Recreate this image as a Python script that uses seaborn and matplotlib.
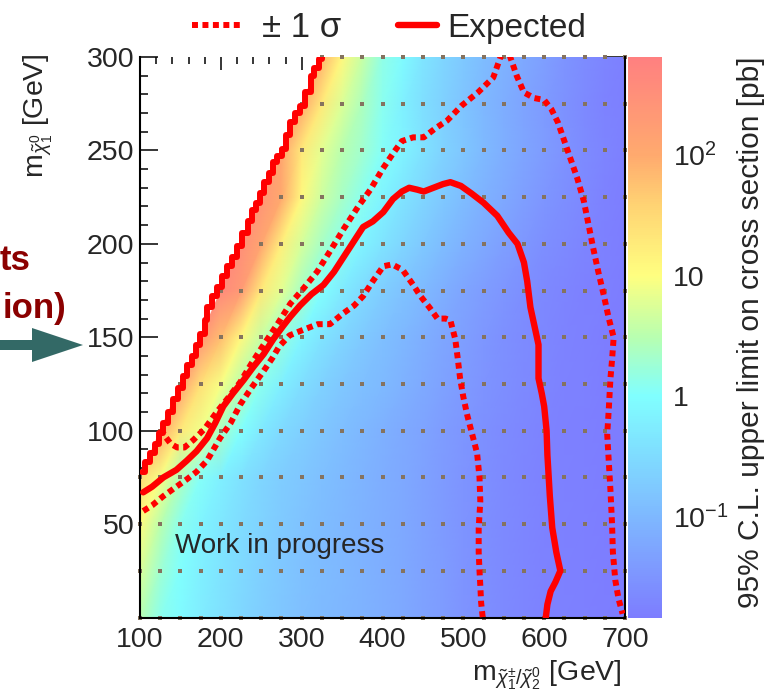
import numpy as np
import matplotlib
matplotlib.use("Agg")
import matplotlib.pyplot as plt
import matplotlib.tri as mtri
from matplotlib.colors import LinearSegmentedColormap, LogNorm
from matplotlib.lines import Line2D
from matplotlib.patches import FancyArrow
from matplotlib.ticker import FixedLocator, MultipleLocator, LogLocator
import seaborn as sns

sns.set_style("ticks")
plt.rcParams["font.family"] = ["Liberation Sans", "DejaVu Sans"]
plt.rcParams["mathtext.fontset"] = "custom"
plt.rcParams["mathtext.rm"] = "Liberation Sans"
plt.rcParams["mathtext.it"] = "Liberation Sans:italic"
plt.rcParams["mathtext.bf"] = "Liberation Sans:bold"

# ---------------------------------------------------------------- data
# signal grid: chargino/neutralino2 mass (columns) and LSP mass (rows), GeV
m_chargino = [100, 125, 150, 175, 200, 225, 250, 275, 300, 325, 350, 375, 400,
              425, 450, 475, 500, 525, 550, 575, 600, 625, 650, 675, 700]
m_lsp = [0, 25, 50, 75, 100, 125, 150, 175, 200, 225, 250, 275, 300]

# log10 of the 95% CL upper limit [pb]; each row starts at the first
# kinematically allowed column (m_chargino >= m_lsp + 25)
log_limit_rows = [
    [0.50, 0.12, -0.05, -0.25, -0.42, -0.56, -0.68, -0.79, -0.88, -0.95, -1.01, -1.07, -1.13,
     -1.22, -1.31, -1.40, -1.50, -1.58, -1.65, -1.70, -1.75, -1.78, -1.80, -1.82, -1.83],
    [0.75, 0.28, 0.00, -0.21, -0.38, -0.53, -0.66, -0.77, -0.86, -0.94, -1.00, -1.07, -1.13,
     -1.22, -1.31, -1.40, -1.50, -1.58, -1.65, -1.70, -1.75, -1.78, -1.80, -1.82, -1.83],
    [1.05, 0.52, 0.10, -0.14, -0.33, -0.49, -0.62, -0.74, -0.84, -0.92, -0.99, -1.06, -1.13,
     -1.22, -1.31, -1.41, -1.50, -1.58, -1.65, -1.70, -1.75, -1.78, -1.80, -1.82, -1.83],
    [1.50, 0.95, 0.42, 0.05, -0.22, -0.42, -0.57, -0.70, -0.80, -0.89, -0.97, -1.05, -1.13,
     -1.22, -1.31, -1.41, -1.50, -1.58, -1.65, -1.70, -1.75, -1.78, -1.80, -1.82, -1.83],
    [2.00, 1.30, 0.90, 0.35, 0.00, -0.30, -0.52, -0.67, -0.79, -0.90, -1.00, -1.10,
     -1.19, -1.29, -1.39, -1.48, -1.56, -1.63, -1.69, -1.74, -1.78, -1.80, -1.82, -1.83],
    [2.20, 1.40, 0.95, 0.50, 0.10, -0.22, -0.45, -0.63, -0.77, -0.88, -0.98,
     -1.08, -1.19, -1.30, -1.41, -1.50, -1.58, -1.65, -1.71, -1.75, -1.78, -1.81, -1.83],
    [2.40, 1.80, 1.10, 0.60, 0.20, -0.12, -0.38, -0.58, -0.74, -0.88,
     -1.00, -1.12, -1.24, -1.36, -1.46, -1.55, -1.63, -1.69, -1.74, -1.78, -1.81, -1.83],
    [2.60, 2.30, 1.30, 0.80, 0.35, 0.00, -0.28, -0.50, -0.68,
     -0.84, -0.98, -1.12, -1.26, -1.38, -1.49, -1.58, -1.66, -1.72, -1.77, -1.80, -1.83],
    [2.50, 2.10, 1.20, 0.70, 0.35, 0.10, -0.15, -0.38,
     -0.58, -0.76, -0.92, -1.08, -1.22, -1.35, -1.47, -1.57, -1.65, -1.72, -1.78, -1.82],
    [2.40, 2.00, 1.10, 0.65, 0.35, 0.10, -0.15,
     -0.38, -0.58, -0.76, -0.92, -1.08, -1.22, -1.36, -1.48, -1.58, -1.67, -1.75, -1.81],
    [2.10, 1.30, 0.80, 0.50, 0.30, 0.05,
     -0.15, -0.40, -0.62, -0.80, -0.97, -1.12, -1.26, -1.40, -1.52, -1.63, -1.72, -1.80],
    [2.00, 1.30, 0.75, 0.40, 0.10,
     -0.20, -0.45, -0.65, -0.83, -0.99, -1.14, -1.28, -1.42, -1.54, -1.64, -1.73, -1.80],
    [1.90, 1.10, 0.60, 0.15,
     -0.05, -0.35, -0.58, -0.76, -0.92, -1.07, -1.22, -1.36, -1.50, -1.62, -1.72, -1.80],
]

# expected exclusion contour (GeV)
exp_x = [104, 115, 129, 145, 158, 170, 183, 193, 203, 215, 228, 240, 253, 265, 277, 286,
         298, 312, 327, 340, 352, 364, 376, 388, 401, 413, 424, 433, 443, 451, 463, 475,
         484, 497, 510, 525, 542, 556, 567, 575, 579, 583, 588, 593, 593, 597, 600, 603,
         604, 607, 610, 615, 620, 614, 608, 604, 602]
exp_y = [67, 70, 75, 79, 84, 89, 96, 104, 113, 120, 127, 134, 141, 149, 156, 161,
         167, 173, 178, 185, 193, 201, 209, 212, 217, 224, 228, 230, 229, 228, 230, 232,
         233, 231, 227, 222, 215, 206, 200, 190, 180, 166, 156, 146, 128, 120, 113, 100,
         87, 65, 48, 35, 25, 19, 14, 7, 0]

# -1 sigma expected contour
minus_x = [104, 115, 129, 145, 158, 170, 183, 199, 212, 224, 238, 253, 264, 272, 285,
           302, 320, 335, 352, 365, 376, 388, 401, 412, 425, 438, 447, 458, 468, 478, 484,
           490, 493, 496, 500, 505, 511, 517, 520, 521, 519, 519, 520, 521, 522, 524]
minus_y = [57, 60, 65, 70, 74, 78, 84, 96, 104, 114, 123, 132, 139, 145, 151,
           154, 157, 157, 163, 167, 172, 180, 188, 189, 186, 178, 172, 166, 160, 160, 159,
           149, 139, 128, 118, 108, 98, 88, 75, 62, 48, 35, 25, 17, 8, 0]

# +1 sigma expected contour (leaves the frame at the top and comes back)
plus_x = [126, 131, 138, 146, 155, 166, 180, 195, 208, 224, 238, 253, 270, 286, 302,
          319, 335, 352, 370, 385, 400, 414, 424, 438, 451, 466, 480, 498, 518, 537, 546,
          552, 558, 566, 575, 588, 600, 609, 617, 625, 633, 641, 649, 655, 661, 667, 674,
          680, 686, 684, 682, 680, 678, 680, 682, 684, 685, 688, 692, 697]
plus_y = [101, 97, 93, 91, 91, 95, 101, 110, 117, 126, 136, 146, 157, 168, 176,
          185, 196, 208, 220, 229, 240, 249, 255, 257, 257, 262, 266, 274, 281, 289, 300,
          308, 300, 290, 281, 278, 277, 272, 265, 255, 245, 235, 223, 210, 197, 185, 172,
          160, 150, 138, 128, 112, 98, 83, 68, 50, 35, 20, 10, 2]

# observed limit along the kinematic edge
obs_x = [103, 106, 112, 119, 124, 129, 135, 141, 147, 153, 158, 164, 169, 174, 180, 183,
         189, 195, 201, 208, 214, 220, 226, 233, 238, 243, 248, 253, 259, 265, 270, 276,
         281, 286, 292, 298, 304, 311, 315, 321, 325]
obs_y = [78, 83, 88, 93, 99, 104, 110, 117, 123, 129, 135, 140, 146, 152, 159, 166,
         172, 177, 183, 188, 193, 199, 206, 212, 218, 222, 227, 233, 238, 244, 247, 251,
         258, 265, 270, 274, 281, 290, 294, 299, 306]

x_ticks = [100, 200, 300, 400, 500, 600, 700]
y_ticks = [50, 100, 150, 200, 250, 300]
cbar_ticks = [0.1, 1, 10, 100]
cbar_labels = [r"$10^{-1}$", "1", "10", r"$10^{2}$"]
legend_labels = ["± 1 σ", "Expected"]

# ---------------------------------------------------------------- figure
W, H = 768, 698
fig = plt.figure(figsize=(W / 100, H / 100), dpi=100)
ax = fig.add_axes([140 / W, 1 - 617.5 / H, 485 / W, 560.5 / H])
cax = fig.add_axes([628 / W, 1 - 618 / H, 34 / W, 561 / H])

# palette: rainbow washed with white
lo, hi = 0.0145, 650.0
span = np.log10(hi) - np.log10(lo)
def pos(v):
    return (v - np.log10(lo)) / span
cmap = LinearSegmentedColormap.from_list("washed_rainbow", [
    (0.0, (125 / 255, 125 / 255, 1.0)),
    (pos(0.0), (128 / 255, 1.0, 1.0)),
    (pos(0.5), (185 / 255, 1.0, 175 / 255)),
    (pos(1.0), (1.0, 1.0, 128 / 255)),
    (pos(1.6), (1.0, 210 / 255, 115 / 255)),
    (pos(2.0), (1.0, 170 / 255, 110 / 255)),
    (1.0, (1.0, 128 / 255, 128 / 255)),
])
norm = LogNorm(vmin=lo, vmax=hi)

# limit surface on the allowed part of the grid
nx, ny = len(m_chargino), len(m_lsp)
grid = np.full((ny, nx), np.nan)
for j, row in enumerate(log_limit_rows):
    grid[j, nx - len(row):] = row
X, Y = np.meshgrid(m_chargino, m_lsp)
valid = ~np.isnan(grid)
index = -np.ones((ny, nx), dtype=int)
index[valid] = np.arange(valid.sum())
tris = []
for j in range(ny - 1):
    for i in range(nx - 1):
        a, b, c, d = index[j, i], index[j, i + 1], index[j + 1, i + 1], index[j + 1, i]
        for t in ((a, b, c), (a, c, d)):
            if min(t) >= 0:
                tris.append(t)
triang = mtri.Triangulation(X[valid].astype(float), Y[valid].astype(float), np.array(tris))
mesh = ax.tripcolor(triang, 10.0 ** grid[valid], shading="gouraud", cmap=cmap, norm=norm,
                    zorder=1)

# signal points
sns.scatterplot(x=X[valid], y=Y[valid], marker="s", s=9, color="#85735f", linewidth=0,
                ax=ax, zorder=2, clip_on=False, legend=False)

dotted = (0, (1.0, 0.75))
sns.lineplot(x=minus_x, y=minus_y, sort=False, estimator=None, color="red", linewidth=4.3,
             linestyle=dotted, dash_capstyle="butt", ax=ax, zorder=4)
sns.lineplot(x=plus_x, y=plus_y, sort=False, estimator=None, color="red", linewidth=4.3,
             linestyle=dotted, dash_capstyle="butt", ax=ax, zorder=4)
sns.lineplot(x=exp_x, y=exp_y, sort=False, estimator=None, color="red", linewidth=4.6,
             ax=ax, zorder=5)
sns.lineplot(x=obs_x, y=obs_y, sort=False, estimator=None, color="red", linewidth=4.3,
             drawstyle="steps-post", ax=ax, zorder=5)

ax.set_xlim(100, 700)
ax.set_ylim(0, 300)
ax.set_xlabel("")
ax.set_ylabel("")
ax.xaxis.set_major_locator(FixedLocator(x_ticks))
ax.xaxis.set_minor_locator(MultipleLocator(20))
ax.yaxis.set_major_locator(FixedLocator(y_ticks))
ax.yaxis.set_minor_locator(MultipleLocator(10))
ax.tick_params(axis="both", which="both", direction="in", top=True, right=True,
               labelsize=20.5, width=1.1, color="black")
ax.tick_params(axis="y", which="major", length=13, pad=4)
ax.tick_params(axis="y", which="minor", length=6)
ax.tick_params(axis="x", which="major", length=9.5, pad=7)
ax.tick_params(axis="x", which="minor", length=5)
for side in ("left", "bottom", "right"):
    ax.spines[side].set_linewidth(1.5)
    ax.spines[side].set_color("black")
ax.spines["top"].set_visible(False)

ax.text(0.072, 0.115, "Work in progress", transform=ax.transAxes, fontsize=20,
        ha="left", va="baseline", zorder=6)

# colour scale
cb = fig.colorbar(mesh, cax=cax)
cb.outline.set_visible(False)
cb.set_ticks(cbar_ticks, labels=cbar_labels)
cax.yaxis.set_minor_locator(LogLocator(base=10, subs=np.arange(2, 10), numticks=20))
cax.yaxis.set_ticks_position("right")
cax.tick_params(which="both", direction="in", right=True, left=False, labelsize=20.5,
                pad=8)
cax.tick_params(which="major", length=12, width=1.2, color="#777777")
cax.tick_params(which="minor", length=6, width=1.2, color="#222222")
fig.text(751 / W, 1 - 332 / H, "95% C.L. upper limit on cross section [pb]",
         rotation=90, ha="center", va="center", fontsize=21.5)

# axis titles
fig.text(38 / W, 1 - 53 / H, r"m$_{\tilde{\chi}^{0}_{1}}$ [GeV]", rotation=90,
         ha="center", va="top", fontsize=20.5)
fig.text(622 / W, 1 - 680 / H, r"m$_{\tilde{\chi}^{\pm}_{1}/\tilde{\chi}^{0}_{2}}$ [GeV]",
         ha="right", va="baseline", fontsize=20.5)

# legend row
fig.add_artist(Line2D([192 / W, 242 / W], [1 - 25 / H] * 2, color="red", lw=4.3,
                      linestyle=dotted, dash_capstyle="butt"))
fig.text(262 / W, 1 - 37 / H, legend_labels[0], fontsize=25, ha="left", va="baseline")
fig.add_artist(Line2D([398 / W, 437 / W], [1 - 25 / H] * 2, color="red", lw=4.6))
fig.text(447 / W, 1 - 37 / H, legend_labels[1], fontsize=24, ha="left", va="baseline")

# annotation at the left margin
fig.text(30 / W, 1 - 270 / H, "ts", color="#8b0000", fontsize=25, fontweight="bold",
         ha="right", va="baseline")
fig.text(66 / W, 1 - 318 / H, "ion)", color="#8b0000", fontsize=25, fontweight="bold",
         ha="right", va="baseline")
fig.add_artist(FancyArrow(-0.01, 1 - 345 / H, 83 / W + 0.01, 0, width=10 / H,
                          head_width=34 / H, head_length=51 / W,
                          length_includes_head=True, color="#336966", lw=0,
                          transform=fig.transFigure))

fig.savefig("out.png", dpi=100)
